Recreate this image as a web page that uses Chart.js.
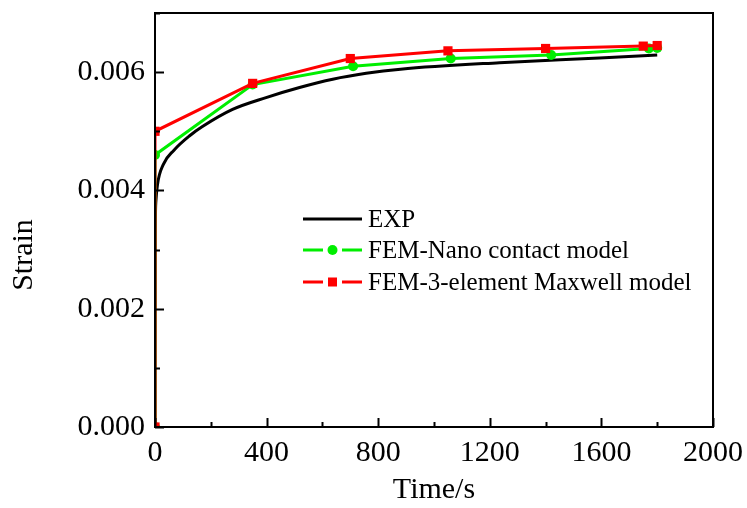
<!DOCTYPE html>
<html>
<head>
<meta charset="utf-8">
<script src="https://cdn.jsdelivr.net/npm/chart.js@4.4.0/dist/chart.umd.min.js"></script>
<style>
  html, body { margin: 0; padding: 0; background: #ffffff; }
  #wrap { width: 747px; height: 508px; }
</style>
</head>
<body>
<div id="wrap"><canvas id="strainChart" width="747" height="508"></canvas></div>
<script>
// values
const expTime   = [0, 1, 3, 9, 30, 68, 123, 170, 278, 398, 518, 637, 757, 880, 1235, 1593, 1800];
const expStrain = [0, 0.0032, 0.0038, 0.00410, 0.00444, 0.00468, 0.00492, 0.00508, 0.00537, 0.00557, 0.00574, 0.00588, 0.00598, 0.00605, 0.00616, 0.00624, 0.00629];

const nanoTime   = [0, 0, 350, 710, 1060, 1420, 1770, 1800];
const nanoStrain = [0, 0.0046, 0.00579, 0.0061, 0.00623, 0.00629, 0.0064, 0.00641];

const maxwellTime   = [0, 0, 350, 700, 1050, 1400, 1750, 1800];
const maxwellStrain = [0, 0.0050, 0.00581, 0.00623, 0.00636, 0.0064, 0.00644, 0.00645];

const xTicks = [0, 400, 800, 1200, 1600, 2000];
const yTicks = [0, 0.002, 0.004, 0.006];
const seriesNames = ['EXP', 'FEM-Nano contact model', 'FEM-3-element Maxwell model'];

const FONT = '"Liberation Serif", "Times New Roman", serif';

function pairs(xs, ys) {
    return xs.map((x, i) => ({ x: x, y: ys[i] }));
}

// frame, inward tick marks, y title and the legend box
const decorations = {
    id: 'decorations',
    afterDraw(chart) {
        const ctx = chart.ctx;
        const a = chart.chartArea;
        const xs = chart.scales.x, ys = chart.scales.y;
        ctx.save();
        ctx.strokeStyle = '#000';
        ctx.lineWidth = 2;
        ctx.strokeRect(a.left, a.top, a.right - a.left, a.bottom - a.top);

        // x ticks (major every 400, minor every 200)
        for (let v = 0; v <= 2000; v += 200) {
            const px = Math.round(xs.getPixelForValue(v)) + 0.5;
            const len = (v % 400 === 0) ? 9 : 5;
            ctx.beginPath();
            ctx.moveTo(px, a.bottom);
            ctx.lineTo(px, a.bottom - len);
            ctx.stroke();
        }
        // y ticks (major every 0.002, minor every 0.001)
        for (let k = 0; k <= 7; k++) {
            const py = Math.round(ys.getPixelForValue(k * 0.001)) + 0.5;
            const len = (k % 2 === 0) ? 9 : 5;
            ctx.beginPath();
            ctx.moveTo(a.left, py);
            ctx.lineTo(a.left + len, py);
            ctx.stroke();
        }

        // y axis title
        ctx.fillStyle = '#000';
        ctx.font = '30px ' + FONT;
        ctx.textAlign = 'center';
        ctx.textBaseline = 'middle';
        ctx.translate(24, 255);
        ctx.rotate(-Math.PI / 2);
        ctx.fillText('Strain', 0, 0);
        ctx.restore();

        // legend
        ctx.save();
        const rows = [219, 250, 282];
        chart.data.datasets.forEach((ds, i) => {
            const y = rows[i];
            ctx.strokeStyle = ds.borderColor;
            ctx.lineWidth = 3;
            ctx.beginPath();
            if (ds.pointRadius > 0) {
                ctx.moveTo(303, y); ctx.lineTo(323, y);
                ctx.moveTo(342, y); ctx.lineTo(362, y);
            } else {
                ctx.moveTo(303, y); ctx.lineTo(362, y);
            }
            ctx.stroke();
            if (ds.pointRadius > 0) {
                ctx.fillStyle = ds.pointBackgroundColor;
                if (ds.pointStyle === 'rect') {
                    ctx.fillRect(328, y - 4.5, 9, 9);
                } else {
                    ctx.beginPath();
                    ctx.arc(332.5, y, 5, 0, Math.PI * 2);
                    ctx.fill();
                }
            }
            ctx.fillStyle = '#000';
            ctx.font = '25px ' + FONT;
            ctx.textAlign = 'left';
            ctx.textBaseline = 'middle';
            ctx.fillText(seriesNames[i], 368, y + 1);
        });
        ctx.restore();
    }
};

const ctx = document.getElementById('strainChart').getContext('2d');
const strainChart = new Chart(ctx, {
    type: 'line',
    data: {
        datasets: [
            {
                label: seriesNames[0],
                data: pairs(expTime, expStrain),
                borderColor: '#000000',
                borderWidth: 3,
                pointRadius: 0,
                cubicInterpolationMode: 'monotone',
                order: 3
            },
            {
                label: seriesNames[1],
                data: pairs(nanoTime, nanoStrain),
                borderColor: '#00ee00',
                backgroundColor: '#00ee00',
                pointBackgroundColor: '#00ee00',
                pointBorderWidth: 0,
                borderWidth: 3,
                pointStyle: 'circle',
                pointRadius: 5,
                order: 2
            },
            {
                label: seriesNames[2],
                data: pairs(maxwellTime, maxwellStrain),
                borderColor: '#ff0000',
                backgroundColor: '#ff0000',
                pointBackgroundColor: '#ff0000',
                pointBorderWidth: 0,
                borderWidth: 3,
                pointStyle: 'rect',
                pointRadius: 6.5,
                order: 1
            }
        ]
    },
    options: {
        responsive: false,
        animation: false,
        layout: { padding: { top: 13, right: 34, left: 0, bottom: 0 } },
        plugins: {
            legend: { display: false },
            tooltip: { enabled: false }
        },
        scales: {
            x: {
                type: 'linear',
                min: 0,
                max: 2000,
                grid: { display: false, drawTicks: false },
                border: { display: false },
                afterBuildTicks: s => { s.ticks = xTicks.map(v => ({ value: v })); },
                afterFit: s => { s.height = 81; s.paddingLeft = 0; s.paddingRight = 0; },
                ticks: {
                    color: '#000',
                    padding: 8,
                    maxRotation: 0,
                    font: { family: FONT, size: 30 },
                    callback: v => String(v)
                },
                title: {
                    display: true,
                    text: 'Time/s',
                    color: '#000',
                    padding: { top: 0, bottom: 0 },
                    font: { family: FONT, size: 30 }
                }
            },
            y: {
                type: 'linear',
                min: 0,
                max: 0.007,
                grid: { display: false, drawTicks: false },
                border: { display: false },
                afterBuildTicks: s => { s.ticks = yTicks.map(v => ({ value: v })); },
                afterFit: s => { s.width = 155; s.paddingTop = 0; s.paddingBottom = 0; },
                ticks: {
                    color: '#000',
                    padding: 10,
                    font: { family: FONT, size: 30 },
                    callback: v => v.toFixed(3)
                }
            }
        }
    },
    plugins: [decorations]
});
</script>
</body>
</html>
